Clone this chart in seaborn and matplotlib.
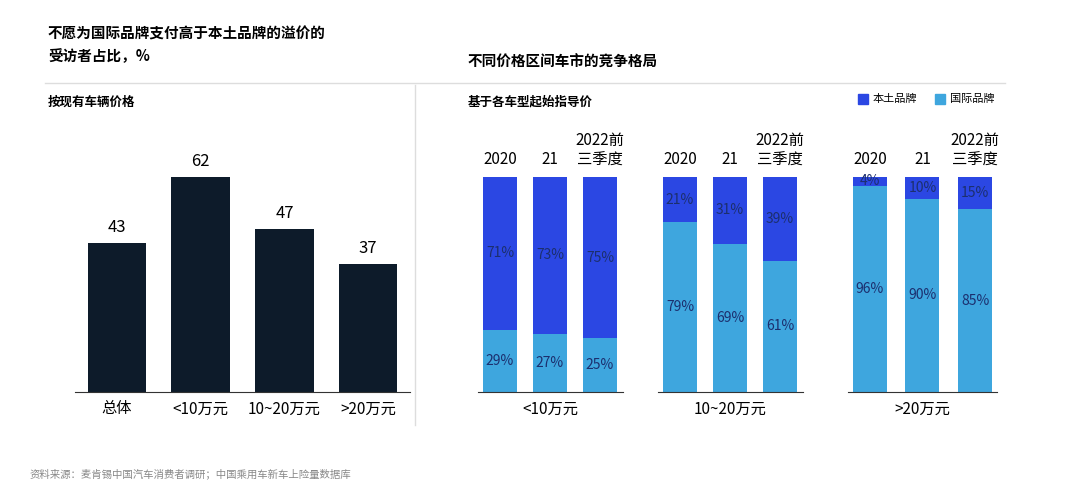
import matplotlib
matplotlib.use("Agg")
import matplotlib.pyplot as plt
import seaborn as sns
import pandas as pd

plt.rcParams["font.family"] = "Noto Sans CJK SC"

left_cats = ["总体", "<10万元", "10~20万元", ">20万元"]
left_vals = [43, 62, 47, 37]

groups = ["<10万元", "10~20万元", ">20万元"]
years = ["2020", "21", "2022前\n三季度"]
domestic = [71, 73, 75, 21, 31, 39, 4, 10, 15]
international = [29, 27, 25, 79, 69, 61, 96, 90, 85]
positions = [0, 1, 2, 3.6, 4.6, 5.6, 7.4, 8.45, 9.5]

C_DOM = "#2b47e3"
C_INT = "#3ea6de"
W, H = 1080, 498
fig = plt.figure(figsize=(10.8, 4.98), dpi=100)

def ax_at(x0, y0, x1, y1):
    return fig.add_axes([x0 / W, 1 - y1 / H, (x1 - x0) / W, (y1 - y0) / H])

# left
axl = ax_at(75, 100, 410, 392)
df = pd.DataFrame({"cat": left_cats, "v": left_vals})
sns.barplot(data=df, x="cat", y="v", color="#0d1b2a", width=0.7, ax=axl, saturation=1)
axl.set_ylim(0, 62 * 292 / 215)
for i, v in enumerate(left_vals):
    axl.text(i, v + 2, str(v), ha="center", va="bottom", fontsize=12)
axl.set_xlabel(""); axl.set_ylabel(""); axl.set_yticks([])
for s in ["top", "right", "left"]:
    axl.spines[s].set_visible(False)
axl.spines["bottom"].set_color("#333333")
axl.tick_params(axis="x", length=0, labelsize=11, pad=6)

# right
axr = ax_at(470, 100, 1010, 392)
dfr = pd.DataFrame({"x": positions, "dom": domestic, "int": international})
axr.bar(dfr["x"], dfr["dom"] + dfr["int"], width=0.68, color=C_DOM)
axr.bar(dfr["x"], dfr["int"], width=0.68, color=C_INT)
axr.set_xlim(-0.6, 10.2)
axr.set_ylim(0, 100 * 292 / 215)
for x, d, it in zip(positions, domestic, international):
    axr.text(x, it + d / 2, f"{d}%", ha="center", va="center", fontsize=10, color="#1c2f6e")
    axr.text(x, it / 2, f"{it}%", ha="center", va="center", fontsize=10, color="#1c2f6e")
    axr.text(x, 104, years[positions.index(x) % 3], ha="center", va="bottom", fontsize=11, linespacing=1.2)
axr.set_xticks([positions[1], positions[4], positions[7]])
axr.set_xticklabels(groups)
axr.tick_params(axis="x", length=0, labelsize=11, pad=6)
axr.set_yticks([])
for s in ["top", "right", "left"]:
    axr.spines[s].set_visible(False)
axr.spines["bottom"].set_visible(False)
for k in range(3):
    xs = positions[3 * k:3 * k + 3]
    axr.plot([xs[0] - 0.45, xs[2] + 0.45], [0, 0], color="#333333", lw=0.8, clip_on=False)

# texts & lines
fig.text(48 / W, 1 - 45 / H, "不愿为国际品牌支付高于本土品牌的溢价的\n受访者占比，%", fontsize=10.5,
         fontweight="bold", va="center", linespacing=1.5)
fig.text(468 / W, 1 - 62 / H, "不同价格区间车市的竞争格局", fontsize=10.5, fontweight="bold", va="center")
fig.text(48 / W, 1 - 102 / H, "按现有车辆价格", fontsize=9, fontweight="bold", va="center")
fig.text(468 / W, 1 - 102 / H, "基于各车型起始指导价", fontsize=9, fontweight="bold", va="center")
fig.add_artist(plt.Line2D([45 / W, 1005 / W], [1 - 83 / H] * 2, color="#dddddd", lw=1))
fig.add_artist(plt.Line2D([415 / W] * 2, [1 - 85 / H, 1 - 425 / H], color="#dddddd", lw=1))
fig.patches.append(plt.Rectangle((858 / W, 1 - 104 / H), 10 / W, 10 / H, color=C_DOM, transform=fig.transFigure))
fig.text(873 / W, 1 - 99 / H, "本土品牌", fontsize=8, va="center")
fig.patches.append(plt.Rectangle((935 / W, 1 - 104 / H), 10 / W, 10 / H, color=C_INT, transform=fig.transFigure))
fig.text(950 / W, 1 - 99 / H, "国际品牌", fontsize=8, va="center")
fig.text(30 / W, 1 - 474 / H, "资料来源：麦肯锡中国汽车消费者调研；中国乘用车新车上险量数据库", fontsize=7.5,
         color="#888888", va="center")

fig.savefig("out.png", dpi=100, facecolor="white")
